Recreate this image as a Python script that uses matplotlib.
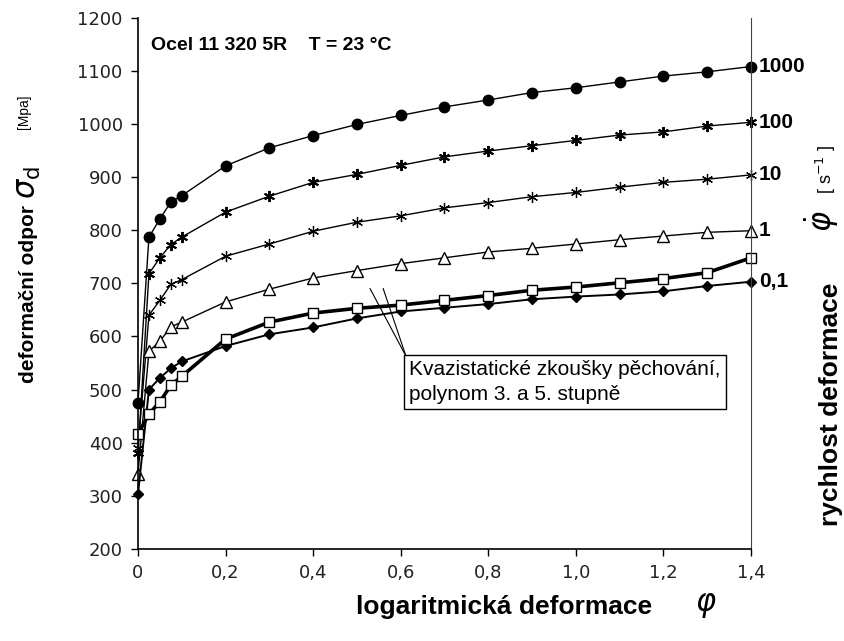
import matplotlib
matplotlib.use("Agg")
import matplotlib.pyplot as plt
from matplotlib import font_manager

# available fonts
names = {f.name for f in font_manager.fontManager.ttflist}
NARROW = "Liberation Sans Narrow" if "Liberation Sans Narrow" in names else "Liberation Sans"
SANS = "Liberation Sans"

# logarithmic strain
phi = [0, 0.025, 0.05, 0.075, 0.1, 0.2, 0.3, 0.4, 0.5, 0.6, 0.7, 0.8, 0.9, 1.0, 1.1, 1.2, 1.3, 1.4]

# deformation resistance [MPa] for strain rates
s1000 = [475, 787, 821, 853, 865, 921, 955, 978, 999, 1016, 1032, 1045, 1059, 1068, 1079, 1090, 1098, 1108]
s100 = [380, 718, 748, 773, 787, 834, 864, 890, 905, 922, 938, 949, 959, 969, 979, 985, 996, 1003]
s10 = [390, 640, 668, 698, 707, 751, 774, 798, 815, 827, 842, 852, 863, 871, 881, 890, 896, 904]
s1 = [342, 572, 591, 618, 627, 665, 689, 710, 724, 737, 748, 759, 766, 774, 782, 789, 796, 799]
s01 = [303, 500, 522, 540, 553, 582, 604, 617, 634, 647, 654, 661, 670, 675, 679, 685, 695, 703]
quasi = [416, 454, 477, 508, 525, 595, 627, 644, 653, 659, 668, 677, 687, 693, 701, 709, 720, 748]

rate_labels = ["1000", "100", "10", "1", "0,1"]

x_ticks = [0, 0.2, 0.4, 0.6, 0.8, 1.0, 1.2, 1.4]
x_ticklabels = ["0", "0,2", "0,4", "0,6", "0,8", "1,0", "1,2", "1,4"]
y_ticks = list(range(200, 1201, 100))

fig = plt.figure(figsize=(8.44, 6.41), dpi=100)
ax = fig.add_axes([0.1635, 0.1435, 0.7263, 0.829])

ax.plot(phi, s1000, color="black", lw=1, marker="o", ms=7.5, mfc="black", mec="black")
ax.plot(phi, s100, color="black", lw=1, marker=(6, 2, 0), ms=8, mew=1.4)
ax.plot(phi, s10, color="black", lw=1, marker=(6, 2, 0), ms=8, mew=0.9)
ax.plot(phi, s1, color="black", lw=1, marker="^", ms=8, mfc="white", mec="black", mew=1)
ax.plot(phi, s01, color="black", lw=1.4, marker="D", ms=5.5, mfc="black", mec="black")
ax.plot(phi, quasi, color="black", lw=2.6, marker="s", ms=7.5, mfc="white", mec="black", mew=1)

ax.set_xlim(0, 1.4)
ax.set_ylim(200, 1200)
ax.set_xticks(x_ticks)
ax.set_xticklabels(x_ticklabels)
ax.set_yticks(y_ticks)
ax.tick_params(axis="both", direction="out", length=5, width=1, labelsize=13, pad=6)
for lab in ax.get_xticklabels() + ax.get_yticklabels():
    lab.set_family("DejaVu Sans")
    lab.set_color("#222222")

ax.spines["top"].set_visible(False)
ax.spines["right"].set_color("#444444")
for s in ["left", "bottom"]:
    ax.spines[s].set_linewidth(1.2)
for line in ax.get_lines():
    line.set_clip_on(False)

# end labels for strain rates
ends = [s1000[-1], s100[-1], s10[-1], s1[-1], s01[-1]]
for lab, yv in zip(rate_labels, ends):
    ax.text(1.418, yv, lab, fontsize=15, fontweight="bold", family=SANS,
            va="center", ha="left")

ax.text(0.03, 1148, "Ocel 11 320 5R    T = 23 °C", fontsize=14, fontweight="bold",
        family=SANS, va="center", ha="left")

# annotation box
ax.text(0.62, 556, "Kvazistatické zkoušky pěchování,\npolynom 3. a 5. stupně",
        fontsize=15, family=SANS, va="top", ha="left", linespacing=1.4,
        bbox=dict(boxstyle="square,pad=0.25", fc="white", ec="black", lw=1))
ax.plot([0.612, 0.53], [563, 690], color="black", lw=0.8)
ax.plot([0.612, 0.56], [563, 690], color="black", lw=0.8)

# axis titles
fig.text(0.034, 0.541, "deformační odpor", rotation=90, fontsize=15, fontweight="bold",
         family=NARROW, ha="center", va="center")
fig.text(0.034, 0.715, r"$\sigma_\mathrm{d}$", rotation=90, fontsize=22,
         ha="center", va="center")
fig.text(0.028, 0.826, "[Mpa]", rotation=90, fontsize=10, family=SANS,
         ha="center", va="center")

fig.text(0.597, 0.053, "logaritmická deformace", fontsize=19, fontweight="bold",
         family=NARROW, ha="center", va="center")
fig.text(0.836, 0.056, r"$\varphi$", fontsize=22, ha="center", va="center")

fig.text(0.985, 0.37, "rychlost deformace", rotation=90, fontsize=19, fontweight="bold",
         family=NARROW, ha="center", va="center")
fig.text(0.974, 0.655, r"$\dot{\varphi}$", rotation=90, fontsize=22,
         ha="center", va="center")
fig.text(0.979, 0.735, r"[ s$^{-1}$ ]", rotation=90, fontsize=13, family=SANS,
         ha="center", va="center")

fig.savefig("out.png", dpi=100)
